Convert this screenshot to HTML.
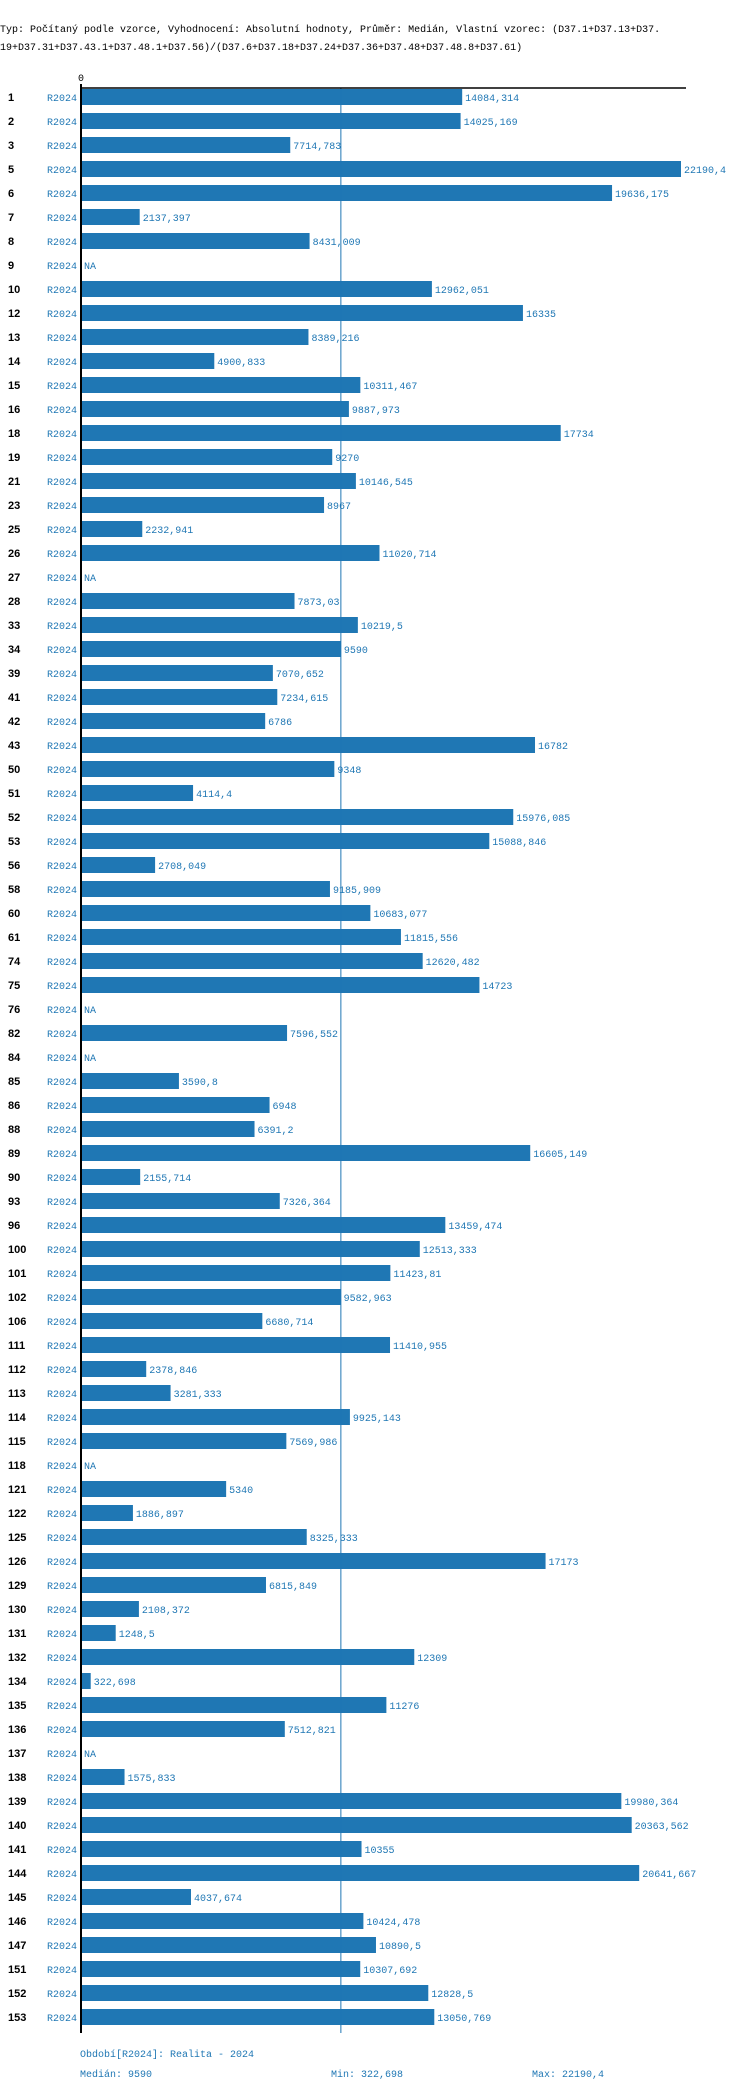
<!DOCTYPE html>
<html><head><meta charset="utf-8"><style>
body{margin:0;background:#fff;width:750px;height:2092px;overflow:hidden}
svg{display:block}
text{font-family:"Liberation Mono",monospace;font-size:10px}
</style></head><body>
<svg id="c" width="750" height="2092">
<text x="0" y="32" fill="#000">Typ: Počítaný podle vzorce, Vyhodnocení: Absolutní hodnoty, Průměr: Medián, Vlastní vzorec: (D37.1+D37.13+D37.</text>
<text x="0" y="50" fill="#000">19+D37.31+D37.43.1+D37.48.1+D37.56)/(D37.6+D37.18+D37.24+D37.36+D37.48+D37.48.8+D37.61)</text>
<text x="78" y="81" fill="#000">0</text>
<text x="80" y="2057" fill="#1f77b4">Období[R2024]: Realita - 2024</text>
<text x="80" y="2077" fill="#1f77b4">Medián: 9590</text>
<text x="331" y="2077" fill="#1f77b4">Min: 322,698</text>
<text x="532" y="2077" fill="#1f77b4">Max: 22190,4</text>
</svg>
<script>
const categories=["1","2","3","5","6","7","8","9","10","12","13","14","15","16","18","19","21","23","25","26","27","28","33","34","39","41","42","43","50","51","52","53","56","58","60","61","74","75","76","82","84","85","86","88","89","90","93","96","100","101","102","106","111","112","113","114","115","118","121","122","125","126","129","130","131","132","134","135","136","137","138","139","140","141","144","145","146","147","151","152","153"];
const values=[14084.314,14025.169,7714.783,22190.4,19636.175,2137.397,8431.009,null,12962.051,16335,8389.216,4900.833,10311.467,9887.973,17734,9270,10146.545,8967,2232.941,11020.714,null,7873.03,10219.5,9590,7070.652,7234.615,6786,16782,9348,4114.4,15976.085,15088.846,2708.049,9185.909,10683.077,11815.556,12620.482,14723,null,7596.552,null,3590.8,6948,6391.2,16605.149,2155.714,7326.364,13459.474,12513.333,11423.81,9582.963,6680.714,11410.955,2378.846,3281.333,9925.143,7569.986,null,5340,1886.897,8325.333,17173,6815.849,2108.372,1248.5,12309,322.698,11276,7512.821,null,1575.833,19980.364,20363.562,10355,20641.667,4037.674,10424.478,10890.5,10307.692,12828.5,13050.769];
const medianValue=9590;
const seriesLabel="R2024";
const svg=document.getElementById('c');
const NS="http://www.w3.org/2000/svg";
const x0=82, pxPer=599/22190.4, top0=89, pitch=24, barH=16;
const xs=v=>x0+v*pxPer;
const ys=i=>top0+i*pitch;
function mk(t,a){const e=document.createElementNS(NS,t);for(const k in a)e.setAttribute(k,a[k]);svg.appendChild(e);return e;}
const axisBottom=ys(categories.length-1)+barH+8;
categories.forEach((c,i)=>{
  const y=ys(i),v=values[i];
  const lab=mk('text',{x:8,y:y+12,fill:'#000','font-weight':'bold',style:'font-family:"Liberation Sans",sans-serif;font-size:11px'});
  lab.textContent=c;
  
  
  const s=mk('text',{x:47,y:y+12,fill:'#1f77b4'});
  s.textContent=seriesLabel;
  
  
  if(v==null){
    const na=mk('text',{x:x0+2,y:y+12,fill:'#1f77b4'});na.textContent='NA';
    
    
    return;
  }
  const r=mk('rect',{x:x0,y:y,width:xs(v)-x0,height:barH,fill:'#1f77b4'});
  
  
  const t=mk('text',{x:xs(v)+3,y:y+12,fill:'#1f77b4'});
  t.textContent=String(v).replace('.',',');
  
  
});
const ml=mk('line',{x1:xs(medianValue),x2:xs(medianValue),y1:88,y2:axisBottom,stroke:'#1f77b4','stroke-width':1});


const ya=mk('line',{x1:81,x2:81,y1:84,y2:axisBottom,stroke:'#000','stroke-width':2});


const xa=mk('line',{x1:80,x2:686,y1:88,y2:88,stroke:'#000','stroke-width':1.5});


</script>
</body></html>
